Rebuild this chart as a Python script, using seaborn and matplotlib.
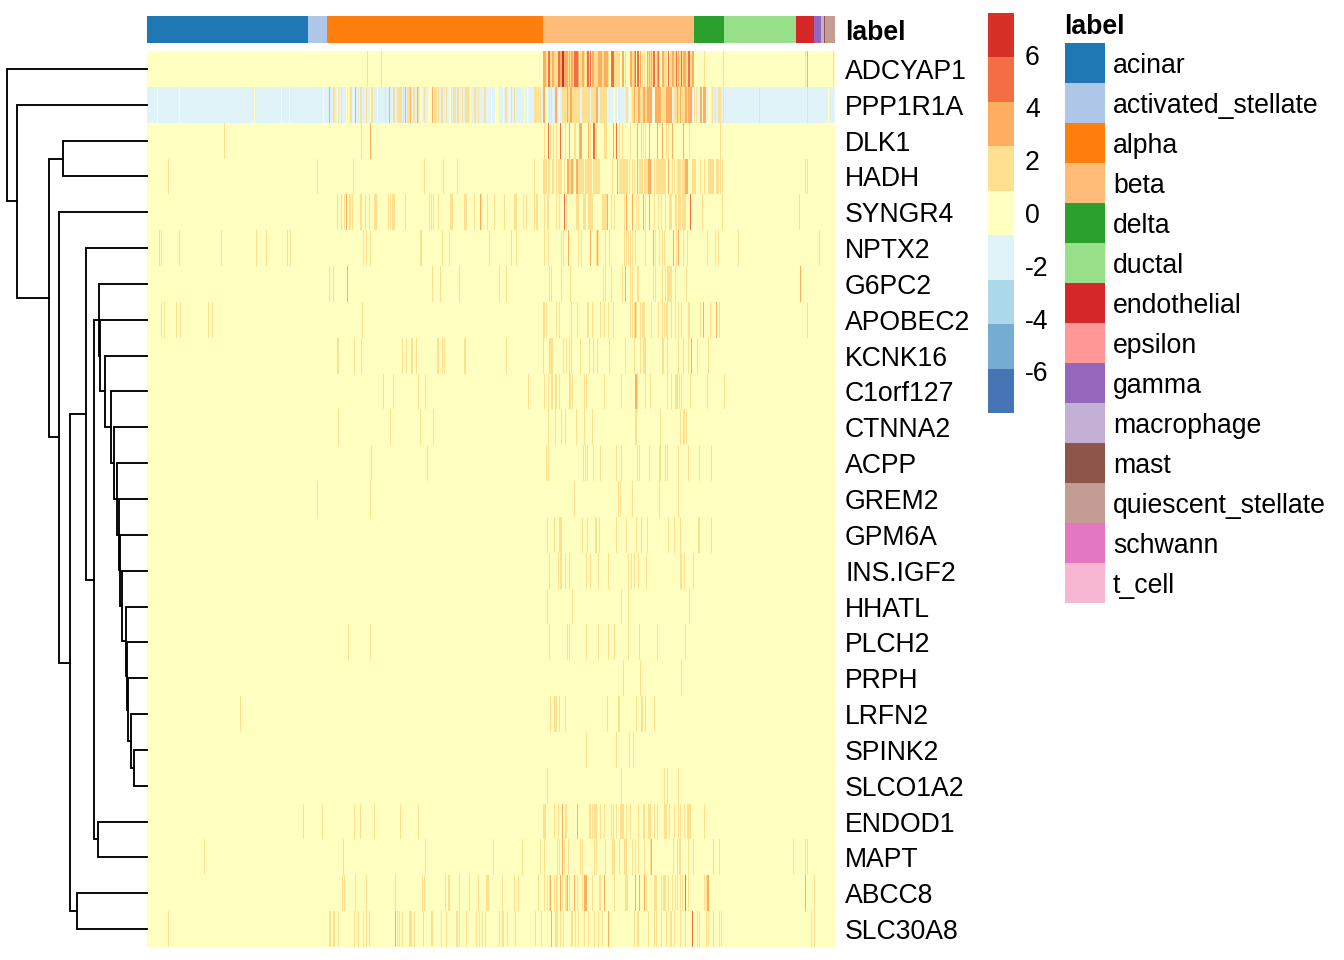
import numpy as np
import pandas as pd
import matplotlib
matplotlib.use("Agg")
import matplotlib.pyplot as plt
from matplotlib.colors import ListedColormap
import seaborn as sns

# ---------- data ----------
genes = ["ADCYAP1","PPP1R1A","DLK1","HADH","SYNGR4","NPTX2","G6PC2","APOBEC2","KCNK16","C1orf127",
         "CTNNA2","ACPP","GREM2","GPM6A","INS.IGF2","HHATL","PLCH2","PRPH","LRFN2","SPINK2",
         "SLCO1A2","ENDOD1","MAPT","ABCC8","SLC30A8"]
cell_types = ["acinar","activated_stellate","alpha","beta","delta","ductal","endothelial","epsilon",
              "gamma","macrophage","mast","quiescent_stellate","schwann","t_cell"]
cell_counts = [161,19,216,151,30,72,18,0,7,3,1,10,0,0]
n_cells = 688
colorbar_ticks = [6,4,2,0,-2,-4,-6]
z_limit = 7.58
PPP1R1A_base = -1.7

# expression value -> cell columns with that value (all other cells: 0)
ADCYAP1 = {2:[220,234,399,403,404,407,408,409,410,421,423,426,433,434,437,439,442,447,448,449,450,455,456,461,467,468,469,470,471,472,478,485,486,495,497,501,503,505,509,512,517,518,519,523,524,527,528,530,532,533,535,539,540,543,544,557,576,658,686],
           3.5:[396,397,398,405,406,413,414,417,418,419,420,422,424,425,431,435,436,445,446,451,452,453,454,457,458,459,460,475,476,483,484,487,493,500,502,504,510,515,516,525,526,531,536,537,538,545,546,660],
           5:[401,402,411,412,427,428,429,430,440,441,443,464,465,466,488,490,491,506,507,511,521,529,534,541,542],
           6.5:[415,416]}
PPP1R1A = {0:[10,32,107,134,142,176,190,199,201,206,223,230,273,274,281,282,283,284,302,303,323,344,348,349,350,351,356,362,377,380,398,399,400,412,460,466,467,470,482,483,506,507,546,548,555,561,562,563,681],
           2:[186,187,191,194,203,204,213,214,219,224,225,238,246,247,250,251,252,253,254,256,260,261,262,266,267,271,277,287,288,289,291,294,295,299,304,306,307,308,310,311,315,318,319,320,321,327,328,331,337,338,358,359,364,367,387,388,389,391,393,402,404,415,416,417,418,419,421,422,425,426,427,428,429,430,431,432,435,436,437,438,439,440,441,442,444,445,446,447,448,453,454,455,456,457,458,459,479,480,485,486,489,490,493,494,495,498,499,515,516,517,518,527,528,529,531,532,534,535,536,537,540,547,549,565,568,571,572,573,576,612,660],
           3.5:[182,208,242,258,263,270,285,396,397,408,409,420,423,424,449,450,487,491,492,496,497,500,501,502,503,504,508,509,510,511,512,513,519,520,521,522,523,524,530,533,538,539,541,542,543,544,553,554,556,557,558]}
DLK1 = {2:[77,214,397,403,406,409,418,427,428,443,449,457,458,459,472,475,483,494,496,498,519,521,542,573],
        3.5:[223,422,432,433,434,441,466,490,502,510,515,525,536],
        5:[401,413,446,447,469]}
HADH = {2:[21,170,206,277,296,310,387,396,397,398,399,401,402,405,406,409,411,412,413,414,417,422,423,426,431,432,433,434,435,436,438,439,440,441,442,443,444,446,447,448,449,450,451,452,465,472,473,474,475,476,477,478,479,480,482,485,487,492,493,494,495,497,498,499,500,504,507,509,510,511,512,513,514,515,516,517,518,525,527,530,531,532,533,535,536,537,545,546,547,548,553,557,561,562,563,564,565,566,569,570,571,573,575,658,660],
        3.5:[420,421,424,425,429,430,470,490,501,502,503,521,538,539,540]}
SYNGR4 = {2:[190,194,197,202,203,205,213,214,218,222,227,228,229,241,243,245,246,247,258,282,284,286,291,303,304,305,317,318,319,327,334,340,347,357,367,368,369,376,379,387,389,390,397,400,401,409,412,419,429,430,431,436,437,438,441,442,443,444,445,455,456,457,458,459,464,467,477,489,491,498,507,511,514,518,522,523,524,528,529,531,532,533,535,536,537,538,555,575,652],
          3.5:[199,333,460,479,485,496,502],
          5:[417,543]}
NPTX2 = {2:[12,14,32,74,109,119,140,143,216,219,223,273,274,295,302,342,364,369,397,401,414,416,431,434,449,451,458,462,477,479,481,483,485,488,498,508,512,515,517,529,536,540,560,568,571,591,672],
         3.5:[421,443,450,506,526,531]}
G6PC2 = {2:[182,186,285,293,312,352,359,402,404,414,423,456,458,464,475,483,485,490,491,506,508,515,518,520,521,522,523,524,528,539],
         3.5:[200,478,653]}
APOBEC2 = {2:[14,17,29,33,61,65,215,396,397,399,409,412,424,430,440,441,445,453,457,461,466,483,485,487,489,493,495,496,497,504,511,515,517,519,520,524,528,531,534,541,542,553,563,572,660],
           3.5:[488,556,569]}
KCNK16 = {2:[190,191,207,214,255,259,264,265,269,290,291,295,297,317,318,359,396,402,403,404,405,416,419,422,424,433,442,446,450,462,478,487,493,496,497,498,515,516,520,531,536,541,550,561],
          3.5:[544]}
C1orf127 = {2:[236,246,271,278,381,397,401,404,405,408,409,412,422,423,425,437,439,457,474,490,498,503,520,524,528,529,530,532,534,543,560,577],
            3.5:[488,489]}
CTNNA2 = {2:[191,243,273,286,401,408,414,418,429,437,445,488,489,513,533,536,537,539]}
ACPP = {2:[224,280,399,401,436,438,440,446,453,469,474,490,492,502,512,513,518,520,531,541,552,564]}
GREM2 = {2:[170,223,427,471,473,485,512,531]}
GPM6A = {2:[400,407,412,413,414,435,440,448,449,452,469,479,489,494,500,521,527,533,551,552,564]}
INS_IGF2 = {2:[402,411,413,414,418,422,439,443,451,461,481,484,487,491,499,533,534,537,546]}
HHATL = {2:[400,425,474,481,542]}
PLCH2 = {2:[201,223,402,420,422,439,451,461,467,481,492,510,538]}
PRPH = {2:[476,493,534]}
LRFN2 = {2:[93,403,407,408,409,412,418,460,471,472,489,494,495,498,507]}
SPINK2 = {2:[439,469,482,486]}
SLCO1A2 = {2:[400,474,517,520,531]}
ENDOD1 = {2:[156,175,207,213,227,253,271,396,397,398,407,411,418,419,442,443,445,447,448,449,453,457,464,466,469,473,474,475,476,479,483,491,496,497,501,502,503,507,510,517,518,519,522,527,531,533,537,540,541,542,543,557],
          3.5:[415,430]}
MAPT = {2:[57,196,278,346,375,393,397,410,412,417,421,433,435,447,449,458,465,466,467,472,477,478,479,485,488,491,497,503,526,530,532,533,541,546,566,572,646,658,660],
        3.5:[415,504]}
ABCC8 = {2:[195,197,208,219,248,275,277,298,301,302,312,322,331,339,340,341,355,367,371,391,397,400,402,407,409,410,415,418,419,422,430,435,445,452,453,467,478,479,480,499,507,508,509,514,516,517,518,521,525,528,530,533,535,541,557,559,667],
         3.5:[403,413,420,427,437,438,439,457,488,492,497,560,561,658],
         5:[538]}
SLC30A8 = {2:[21,182,183,186,187,191,207,211,216,219,222,250,252,255,262,263,264,267,276,284,285,294,299,309,310,312,319,329,332,335,338,352,355,356,360,368,388,394,408,409,410,413,416,424,425,428,431,437,441,447,451,455,487,490,491,501,507,509,514,519,523,524,527,533,538,550,552,559,561,566,572,574,664,667],
           3.5:[248,404,461],
           5:[545]}
gene_cells = [ADCYAP1,PPP1R1A,DLK1,HADH,SYNGR4,NPTX2,G6PC2,APOBEC2,KCNK16,C1orf127,CTNNA2,ACPP,GREM2,
              GPM6A,INS_IGF2,HHATL,PLCH2,PRPH,LRFN2,SPINK2,SLCO1A2,ENDOD1,MAPT,ABCC8,SLC30A8]

# row dendrogram: leaves are rows 0-24, new nodes are numbered from 25
merge_left = [19,18,17,16,15,14,13,12,11,10,9,8,7,6,21,38,5,23,41,4,2,45,1,0]
merge_right = [20,25,26,27,28,29,30,31,32,33,34,35,36,37,22,39,40,24,42,43,3,44,46,47]
merge_height = [12.7,15.7,18.7,20,20.7,25.3,27.3,28,30.3,33,36.3,42.3,46.7,48,49.3,52.7,61.3,70,77.3,87.7,84,98.5,129.7,140]

# ---------- figure ----------
W, H = 1344, 960
plt.rcParams["font.family"] = ["Liberation Sans", "DejaVu Sans"]
plt.rcParams["axes.unicode_minus"] = False
FS = 19.2
fig = plt.figure(figsize=(W/100, H/100), dpi=100, facecolor="white")

def box(x0, y0, x1, y1):
    return fig.add_axes([x0/W, 1-y1/H, (x1-x0)/W, (y1-y0)/H])

matrix = np.zeros((len(genes), n_cells))
matrix[1, :] = PPP1R1A_base
for i, cells in enumerate(gene_cells):
    for value, columns in cells.items():
        matrix[i, columns] = value
frame = pd.DataFrame(matrix, index=genes)

heat_cmap = ListedColormap(["#4575B4","#74ADD1","#ABD9E9","#E0F3F8","#FFFFBF","#FEE090","#FDAE61","#F46D43","#D73027"])
type_cmap = ListedColormap(sns.color_palette("tab20", 14))

ax = box(147, 51, 835, 947)
cax = box(988, 13, 1014, 413)
sns.heatmap(frame, ax=ax, cmap=heat_cmap, vmin=-z_limit, vmax=z_limit, cbar_ax=cax,
            xticklabels=False, yticklabels=genes)
ax.yaxis.tick_right()
ax.tick_params(axis="y", length=0, pad=7.2, labelsize=FS, labelrotation=0)
ax.set_xlabel(""); ax.set_ylabel("")
for t in ax.get_yticklabels():
    t.set_va("center_baseline")

cbar = ax.collections[0].colorbar
cbar.set_ticks(colorbar_ticks)
cbar.set_ticklabels([str(v) for v in colorbar_ticks])
cbar.ax.tick_params(length=0, pad=8, labelsize=FS)
cbar.outline.set_visible(False)
for t in cbar.ax.get_yticklabels():
    t.set_va("center_baseline")

# annotation bar
bar_ax = box(147, 16, 835, 43)
codes = np.repeat(np.arange(len(cell_types)), cell_counts).reshape(1, -1)
sns.heatmap(codes, ax=bar_ax, cmap=type_cmap, vmin=-0.5, vmax=13.5, cbar=False,
            xticklabels=False, yticklabels=False)
bar_ax.annotate("label", xy=(1, 0.5), xycoords="axes fraction", xytext=(7, 0), textcoords="offset points",
                fontsize=FS, fontweight="bold", va="center_baseline", ha="left")

# legend of cell types
leg_ax = box(1065, 43, 1105, 603)
sns.heatmap(np.arange(len(cell_types)).reshape(-1, 1), ax=leg_ax, cmap=type_cmap, vmin=-0.5, vmax=13.5,
            cbar=False, xticklabels=False, yticklabels=cell_types)
leg_ax.yaxis.tick_right()
leg_ax.tick_params(axis="y", length=0, pad=5.8, labelsize=FS, labelrotation=0)
for t in leg_ax.get_yticklabels():
    t.set_va("center_baseline")
leg_ax.annotate("label", xy=(0, 1), xycoords="axes fraction", xytext=(-0.5, 13.5), textcoords="offset points",
                fontsize=FS, fontweight="bold", va="center_baseline", ha="left")

# dendrogram
den = box(0, 51, 147, 947)
pos = {i: i + 0.5 for i in range(len(genes))}
hgt = {i: 0.0 for i in range(len(genes))}
for k, (a, b, h) in enumerate(zip(merge_left, merge_right, merge_height)):
    node = len(genes) + k
    den.plot([hgt[a], h, h, hgt[b]], [pos[a], pos[a], pos[b], pos[b]], color="black", lw=1.35,
             solid_capstyle="projecting", solid_joinstyle="miter", clip_on=False)
    pos[node] = (pos[a] + pos[b]) / 2
    hgt[node] = h
den.set_xlim(147, 0)
den.set_ylim(len(genes), 0)
den.axis("off")

fig.savefig("out.png", dpi=100, facecolor="white")
